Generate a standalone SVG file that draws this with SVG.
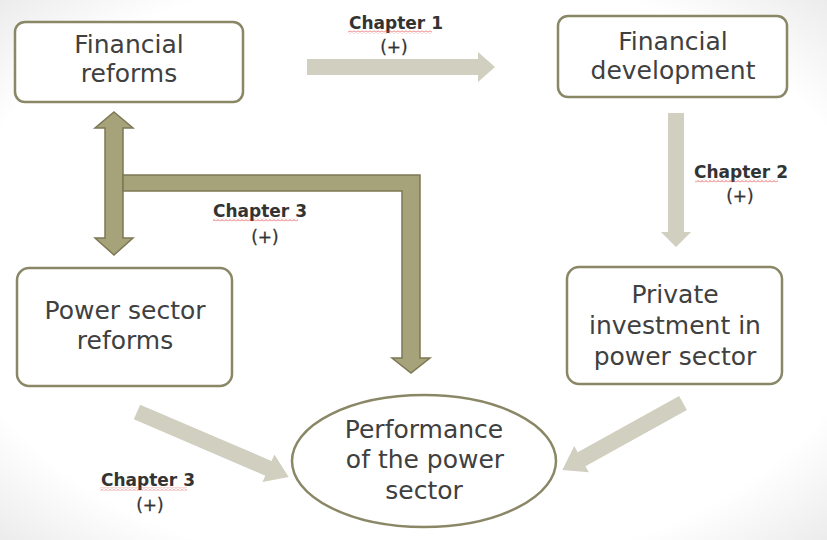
<svg xmlns="http://www.w3.org/2000/svg" width="827" height="540" viewBox="0 0 827 540">
  <defs>
    <radialGradient id="bg" cx="50%" cy="50%" r="75%">
      <stop offset="0.75" stop-color="#ffffff"/>
      <stop offset="1" stop-color="#e6e6e6"/>
    </radialGradient>
    <pattern id="squiggle" width="4" height="3" patternUnits="userSpaceOnUse">
      <path d="M0,2.5 L2,0.5 L4,2.5" fill="none" stroke="#e23a3a" stroke-width="0.8"/>
    </pattern>
    <style>
      .box { fill: #ffffff; stroke: #8a8766; stroke-width: 2.5; }
      .node { font-family: "DejaVu Sans", "Liberation Sans", sans-serif; font-size: 25px; fill: #404040; text-anchor: middle; }
      .chap { font-family: "DejaVu Sans", "Liberation Sans", sans-serif; font-size: 17px; font-weight: bold; fill: #333333; text-anchor: middle; }
      .plus { font-family: "DejaVu Sans", "Liberation Sans", sans-serif; font-size: 17px; fill: #333333; stroke: #333333; stroke-width: 0.3; text-anchor: middle; }
      .light { fill: #d0cfc0; }
      .dark { fill: #a6a27a; stroke: #7c7855; stroke-width: 1.5; stroke-linejoin: miter; }
      .sq { fill: url(#squiggle); }
    </style>
  </defs>

  <rect x="0" y="0" width="827" height="540" fill="url(#bg)"/>

  <g id="connectors">
    <!-- Chapter 1: Financial reforms -> Financial development -->
    <path class="light" d="M307,59 H478 V52 L495,67 L478,82 V75 H307 Z"/>
    <!-- Chapter 2: Financial development -> Private investment -->
    <path class="light" d="M668,113 H684 V232 H691 L676,247 L661,232 H668 Z"/>
    <!-- Chapter 3: Power sector reforms -> Performance -->
    <path class="light" transform="translate(137,412) rotate(23.2)" d="M0,-8 H143 V-15 L165,0 L143,15 V8 H0 Z"/>
    <!-- Private investment -> Performance -->
    <path class="light" transform="translate(683,403) rotate(151)" d="M0,-8 H116 V-15 L138,0 L116,15 V8 H0 Z"/>
    <!-- Double arrow between Financial reforms and Power sector reforms -->
    <path class="dark" d="M114,112 L133,128 H123 V238 H133 L114,255 L95,238 H105 V128 H95 Z"/>
    <!-- Bar and arrow down to Performance -->
    <path class="dark" d="M123,175 H420 V358 H430 L411,373 L392,358 H402 V191 H123 Z"/>
  </g>

  <g id="labels">
    <text class="chap" x="396" y="29">Chapter 1</text>
    <text class="plus" x="394" y="53">(+)</text>
    <rect class="sq" x="348" y="30.5" width="84" height="3"/>

    <text class="chap" x="741" y="178">Chapter 2</text>
    <text class="plus" x="740" y="202">(+)</text>
    <rect class="sq" x="695" y="179.5" width="83" height="3"/>

    <text class="chap" x="260" y="217">Chapter 3</text>
    <text class="plus" x="265" y="243">(+)</text>
    <rect class="sq" x="213" y="218.5" width="85" height="3"/>

    <text class="chap" x="148" y="486">Chapter 3</text>
    <text class="plus" x="150" y="511">(+)</text>
    <rect class="sq" x="100" y="487.5" width="87" height="3"/>
  </g>

  <g id="financial-reforms">
    <rect class="box" x="15" y="22" width="228" height="80" rx="10"/>
    <text class="node" x="129" y="53">Financial</text>
    <text class="node" x="129" y="82">reforms</text>
  </g>

  <g id="financial-development">
    <rect class="box" x="558" y="16" width="229" height="81" rx="10"/>
    <text class="node" x="673" y="50">Financial</text>
    <text class="node" x="673" y="79">development</text>
  </g>

  <g id="power-sector-reforms">
    <rect class="box" x="17" y="268" width="215" height="118" rx="12"/>
    <text class="node" x="125" y="319">Power sector</text>
    <text class="node" x="125" y="349">reforms</text>
  </g>

  <g id="private-investment">
    <rect class="box" x="567" y="267" width="215" height="117" rx="12"/>
    <text class="node" x="675" y="303">Private</text>
    <text class="node" x="675" y="334">investment in</text>
    <text class="node" x="675" y="365">power sector</text>
  </g>

  <g id="performance">
    <ellipse class="box" cx="424" cy="461" rx="132" ry="66"/>
    <text class="node" x="424" y="438">Performance</text>
    <text class="node" x="425" y="468">of the power</text>
    <text class="node" x="424" y="499">sector</text>
  </g>
</svg>
